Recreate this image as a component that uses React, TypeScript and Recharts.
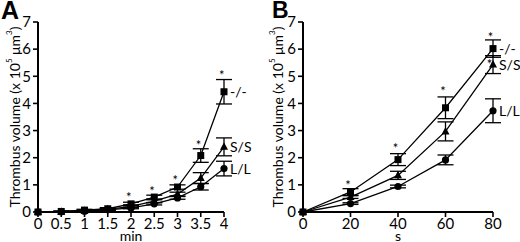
import React from "react";
import {
  ComposedChart,
  Line,
  Scatter,
  XAxis,
  YAxis,
  ErrorBar,
} from "recharts";

// Panel A: minutes
const minutesA = [0, 0.5, 1, 1.5, 2, 2.5, 3, 3.5, 4];
const knockoutA = [0, 0.02, 0.07, 0.12, 0.3, 0.55, 0.92, 2.08, 4.43];
const knockoutErrA = [0, 0.02, 0.03, 0.04, 0.06, 0.07, 0.08, 0.25, 0.45];
const shortA = [0, 0.01, 0.05, 0.1, 0.21, 0.4, 0.66, 1.25, 2.4];
const shortErrA = [0, 0.01, 0.02, 0.03, 0.05, 0.05, 0.07, 0.2, 0.33];
const longA = [0, 0.01, 0.03, 0.08, 0.15, 0.3, 0.52, 0.93, 1.6];
const longErrA = [0, 0.01, 0.02, 0.02, 0.03, 0.04, 0.05, 0.12, 0.27];
const starXA = [1.95, 2.45, 2.95, 3.45, 3.95];
const starYA = [0.6, 0.8, 1.2, 2.5, 5.1];
const xTicksA = [0, 0.5, 1, 1.5, 2, 2.5, 3, 3.5, 4];

// Panel B: seconds
const secondsB = [0, 20, 40, 60, 80];
const knockoutB = [0, 0.74, 1.93, 3.84, 6.02];
const knockoutErrB = [0, 0.12, 0.22, 0.4, 0.32];
const shortB = [0, 0.55, 1.35, 2.97, 5.43];
const shortErrB = [0, 0.05, 0.15, 0.35, 0.33];
const longB = [0, 0.31, 0.94, 1.92, 3.73];
const longErrB = [0, 0.03, 0.05, 0.18, 0.44];
const starXB = [19, 39, 59, 79, 78.5];
const starYB = [1.05, 2.38, 4.48, 6.5, 5.5];
const xTicksB = [0, 20, 40, 60, 80];

const yTicks = [0, 1, 2, 3, 4, 5, 6, 7];
const seriesNames = ["-/-", "S/S", "L/L"];

const FONT = "Lato, 'Open Sans', sans-serif";

const buildRows = (
  xs: number[],
  ko: number[],
  koErr: number[],
  ss: number[],
  ssErr: number[],
  ll: number[],
  llErr: number[]
) =>
  xs.map((x, i) => ({
    x,
    ko: ko[i],
    koErr: koErr[i],
    ss: ss[i],
    ssErr: ssErr[i],
    ll: ll[i],
    llErr: llErr[i],
  }));

const squareDot = (p: any) => (
  <rect key={`sq-${p.index}`} x={p.cx - 3.5} y={p.cy - 3.5} width={7} height={7} fill="#000" />
);
const triangleDot = (p: any) => (
  <path
    key={`tr-${p.index}`}
    d={`M${p.cx},${p.cy - 4.5} L${p.cx + 4},${p.cy + 3} L${p.cx - 4},${p.cy + 3} Z`}
    fill="#000"
  />
);
const circleDot = (p: any) => (
  <circle key={`ci-${p.index}`} cx={p.cx} cy={p.cy} r={3.6} fill="#000" />
);

const endLabel = (name: string, lastIndex: number) => (p: any) =>
  p.index === lastIndex ? (
    <text
      key={`lb-${name}`}
      x={p.x + 6}
      y={p.y}
      dy={5}
      fontSize={14}
      fontFamily={FONT}
      fill="#000"
    >
      {name}
    </text>
  ) : (
    <g key={`lb-${name}-${p.index}`} />
  );

const starShape = (p: any) => (
  <text x={p.cx} y={p.cy} dy={6} textAnchor="middle" fontSize={13} fontFamily={FONT} fill="#000" stroke="none">
    *
  </text>
);

const yLabel = (offset: number) => (p: any) => {
  const vb = p.viewBox;
  const cx = vb.x + offset;
  const cy = vb.y + vb.height / 2;
  return (
    <text
      transform={`translate(${cx},${cy}) rotate(-90)`}
      textAnchor="middle"
      dominantBaseline="central"
      fontSize={14}
      fontFamily={FONT}
      fill="#000"
    >
      Thrombus volume (x 10
      <tspan fontSize={8} dy={-5}>5</tspan>
      <tspan dy={5}> μm</tspan>
      <tspan fontSize={8} dy={-5}>3</tspan>
      <tspan dy={5}>)</tspan>
    </text>
  );
};

type PanelProps = {
  letter: string;
  rows: any[];
  stars: { x: number; y: number }[];
  xTicks: number[];
  xDomain: [number, number];
  xName: string;
  yAxisWidth: number;
  rightMargin: number;
  labelOffset: number;
  letterLeft: number;
  letterSize: number;
};

const Panel = ({ letter, rows, stars, xTicks, xDomain, xName, yAxisWidth, rightMargin, labelOffset, letterLeft, letterSize }: PanelProps) => {
  const last = rows.length - 1;
  const axisProps = {
    axisLine: { stroke: "#000", strokeWidth: 2 },
    tickLine: { stroke: "#000", strokeWidth: 1.6 },
    tick: { fill: "#000", fontSize: 15, fontFamily: FONT },
    tickSize: 5,
  };
  return (
    <div style={{ position: "relative", width: 260, height: 242 }}>
      <ComposedChart
        width={260}
        height={242}
        data={rows}
        margin={{ top: 22, right: rightMargin, bottom: 0, left: 0 }}
      >
        <XAxis
          dataKey="x"
          type="number"
          domain={xDomain}
          ticks={xTicks}
          interval={0}
          height={30}
          tickMargin={1}
          {...axisProps}
          label={{ value: xName, position: "insideBottom", offset: 1, fontSize: 14, fontFamily: FONT, fill: "#000" }}
        />
        <YAxis
          type="number"
          domain={[0, 7]}
          ticks={yTicks}
          interval={0}
          width={yAxisWidth}
          tickMargin={2}
          {...axisProps}
          label={yLabel(labelOffset)}
        />
        <Line
          dataKey="ll"
          stroke="#000"
          strokeWidth={1.3}
          dot={circleDot}
          isAnimationActive={false}
          label={endLabel(seriesNames[2], last)}
        >
          <ErrorBar dataKey="llErr" width={8} stroke="#000" strokeWidth={1.3} />
        </Line>
        <Line
          dataKey="ss"
          stroke="#000"
          strokeWidth={1.3}
          dot={triangleDot}
          isAnimationActive={false}
          label={endLabel(seriesNames[1], last)}
        >
          <ErrorBar dataKey="ssErr" width={8} stroke="#000" strokeWidth={1.3} />
        </Line>
        <Line
          dataKey="ko"
          stroke="#000"
          strokeWidth={1.3}
          dot={squareDot}
          isAnimationActive={false}
          label={endLabel(seriesNames[0], last)}
        >
          <ErrorBar dataKey="koErr" width={8} stroke="#000" strokeWidth={1.3} />
        </Line>
        <Scatter data={stars} dataKey="y" shape={starShape} fill="#000" isAnimationActive={false} />
      </ComposedChart>
      <div
        style={{
          position: "absolute",
          left: letterLeft,
          top: 0,
          lineHeight: "20px",
          fontFamily: "'Liberation Sans', Arial, sans-serif",
          fontWeight: 700,
          fontSize: letterSize,
          color: "#000",
        }}
      >
        {letter}
      </div>
    </div>
  );
};

export default function App() {
  const rowsA = buildRows(minutesA, knockoutA, knockoutErrA, shortA, shortErrA, longA, longErrA);
  const rowsB = buildRows(secondsB, knockoutB, knockoutErrB, shortB, shortErrB, longB, longErrB);
  const starsA = starXA.map((x, i) => ({ x, y: starYA[i] }));
  const starsB = starXB.map((x, i) => ({ x, y: starYB[i] }));
  return (
    <div
      style={{
        position: "absolute",
        left: 0,
        top: 0,
        width: 520,
        height: 242,
        background: "#fff",
        display: "flex",
      }}
    >
      <Panel
        letter="A"
        rows={rowsA}
        stars={starsA}
        xTicks={xTicksA}
        xDomain={[0, 4]}
        xName="min"
        yAxisWidth={38}
        rightMargin={36}
        labelOffset={14}
        letterLeft={1}
        letterSize={25}
      />
      <Panel
        letter="B"
        rows={rowsB}
        stars={starsB}
        xTicks={xTicksB}
        xDomain={[0, 80]}
        xName="s"
        yAxisWidth={43}
        rightMargin={27}
        labelOffset={17}
        letterLeft={12}
        letterSize={23}
      />
    </div>
  );
}
